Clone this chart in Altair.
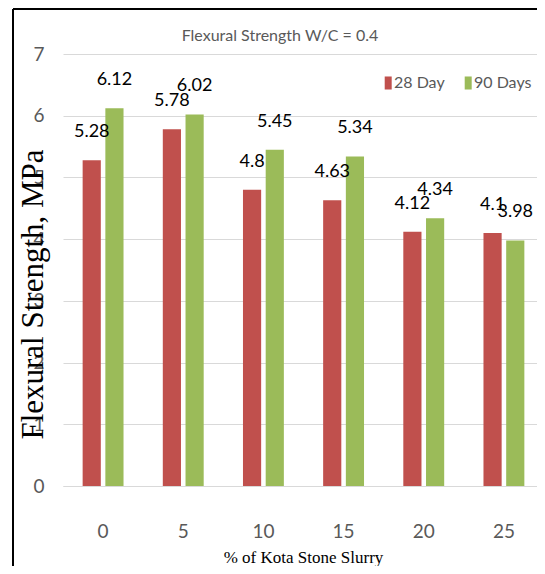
import altair as alt
import pandas as pd

categories = ["0", "5", "10", "15", "20", "25"]
day28 = [5.28, 5.78, 4.8, 4.63, 4.12, 4.1]
day90 = [6.12, 6.02, 5.45, 5.34, 4.34, 3.98]
series = ["28 Day", "90 Days"]
colors = ["#C0504D", "#9BBB59"]
y_ticks = [0, 1, 2, 3, 4, 5, 6, 7]
chart_title = "Flexural Strength W/C = 0.4"

rows = []
for c, a, b in zip(categories, day28, day90):
    rows.append({"cat": c, "series": series[0], "value": a, "label": f"{a:g}"})
    rows.append({"cat": c, "series": series[1], "value": b, "label": f"{b:g}"})
df = pd.DataFrame(rows)

sans = "Lato"
serif = "Liberation Serif"
grey = "#595959"

x_enc = alt.X(
    "cat:N",
    sort=categories,
    scale=alt.Scale(paddingInner=0.49, paddingOuter=0.245, range=[0, 481]),
    axis=alt.Axis(
        title="% of Kota Stone Slurry",
        labelAngle=0,
        ticks=False,
        domainColor="#D9D9D9",
        labelFont=sans,
        labelFontSize=19,
        labelColor=grey,
        labelPadding=36,
        titleFont=serif,
        titleFontSize=17,
        titleFontWeight="normal",
        titleColor="#000000",
        titleX=240,
        titleY=76,
        titleAnchor="middle",
        titleAlign="center",
        titleBaseline="alphabetic",
    ),
)
xoff = alt.XOffset("series:N", sort=series, scale=alt.Scale(paddingInner=0.2, paddingOuter=0))
y_enc = alt.Y(
    "value:Q",
    scale=alt.Scale(domain=[0, 7]),
    axis=alt.Axis(
        values=y_ticks,
        title="Flexural Strength, MPa",
        grid=True,
        gridColor="#D9D9D9",
        domain=False,
        ticks=False,
        labelFont=sans,
        labelFontSize=19,
        labelColor=grey,
        labelPadding=19,
        titleFont=serif,
        titleFontSize=31,
        titleFontWeight="normal",
        titleColor="#000000",
        titleX=-30,
        titleY=240,
        titleAngle=270,
        titleAlign="center",
        titleBaseline="middle",
    ),
)

base = alt.Chart(df)
bars = base.mark_bar().encode(
    x=x_enc,
    xOffset=xoff,
    y=y_enc,
    color=alt.Color(
        "series:N",
        sort=series,
        scale=alt.Scale(domain=series, range=colors),
        legend=alt.Legend(
            orient="none",
            legendX=313,
            legendY=21,
            direction="horizontal",
            title=None,
            symbolType="M0.2,-1.86H2.2V1.86H0.2Z",
            symbolSize=49,
            symbolStrokeWidth=0,
            labelFont=sans,
            labelFontSize=16,
            labelColor=grey,
            labelOffset=2,
            columnPadding=11,
        ),
    ),
)
labels = base.mark_text(
    font=sans, fontSize=18, color="#000000", baseline="alphabetic", dy=-23
).encode(x=x_enc, xOffset=xoff, y=y_enc, text="label:N")

frame = alt.Chart(pd.DataFrame({"k": [0]}))
title_mark = frame.mark_text(
    text=chart_title, font=sans, fontSize=16, color=grey, align="center", baseline="alphabetic"
).encode(x=alt.value(217), y=alt.value(-13))
left_border = frame.mark_rule(color="#000000", strokeWidth=2).encode(
    x=alt.value(-50), y=alt.value(-45), y2=alt.value(512)
)
top_border = frame.mark_rule(color="#000000", strokeWidth=2).encode(
    x=alt.value(-50), x2=alt.value(474), y=alt.value(-45)
)

chart = (
    alt.layer(bars, labels, title_mark, left_border, top_border)
    .properties(
        width=474,
        height=432,
        autosize=alt.AutoSizeParams(type="none"),
        padding={"left": 55, "top": 46, "right": 0, "bottom": 80},
    )
    .configure_view(stroke=None)
)

chart.save("out.html", embed_options={"renderer": "svg", "actions": False})
